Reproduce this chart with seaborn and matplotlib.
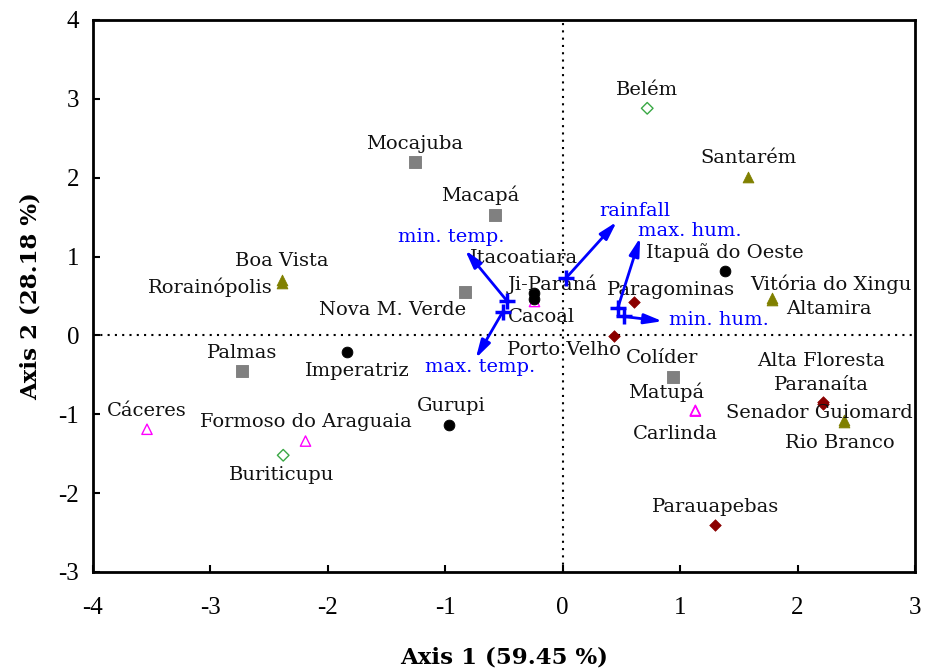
import matplotlib
matplotlib.use("Agg")
import matplotlib.pyplot as plt
import pandas as pd
import seaborn as sns

sns.set_theme(style="white")
plt.rcParams["font.family"] = ["Liberation Serif", "DejaVu Serif"]
plt.rcParams["axes.unicode_minus"] = False

# site scores (axis 1, axis 2) by marker group
sites = [
    "Mocajuba", "Macapá", "Nova M. Verde", "Palmas", "Colíder",
    "Cacoal", "Cáceres", "Formoso do Araguaia", "Matupá", "Carlinda",
    "Itacoatiara", "Ji-Paraná", "Itapuã do Oeste", "Imperatriz", "Gurupi",
    "Paragominas", "Porto Velho", "Alta Floresta", "Paranaíta", "Parauapebas",
    "Santarém", "Boa Vista", "Rorainópolis", "Vitória do Xingu", "Altamira",
    "Senador Guiomard", "Rio Branco",
    "Belém", "Buriticupu",
]
axis1 = [
    -1.26, -0.58, -0.83, -2.73, 0.94,
    -0.24, -3.54, -2.19, 1.13, 1.13,
    -0.24, -0.24, 1.38, -1.84, -0.97,
    0.61, 0.44, 2.22, 2.22, 1.30,
    1.58, -2.39, -2.39, 1.78, 1.78,
    2.40, 2.40,
    0.72, -2.38,
]
axis2 = [
    2.20, 1.53, 0.55, -0.45, -0.53,
    0.43, -1.19, -1.34, -0.95, -0.96,
    0.54, 0.46, 0.82, -0.21, -1.13,
    0.42, -0.01, -0.85, -0.87, -2.40,
    2.01, 0.70, 0.66, 0.48, 0.45,
    -1.07, -1.10,
    2.88, -1.52,
]
group = (["square"] * 5 + ["open triangle"] * 5 + ["circle"] * 5 + ["diamond"] * 5
         + ["triangle"] * 7 + ["open diamond"] * 2)

# environmental vectors: start and tip
variables = ["min. temp.", "max. temp.", "rainfall", "max. hum.", "min. hum."]
var_x0 = [-0.47, -0.51, 0.03, 0.47, 0.52]
var_y0 = [0.43, 0.30, 0.73, 0.35, 0.24]
var_x1 = [-0.83, -0.74, 0.46, 0.66, 0.85]
var_y1 = [1.08, -0.29, 1.44, 1.24, 0.18]

df = pd.DataFrame({"site": sites, "x": axis1, "y": axis2, "group": group})

styles = {
    "square": dict(marker="s", color="#808080", edgecolor="#808080", s=70),
    "open triangle": dict(marker="^", color="none", edgecolor="#ff00ff", s=55, linewidth=1),
    "circle": dict(marker="o", color="black", edgecolor="black", s=60),
    "diamond": dict(marker="D", color="#8b0000", edgecolor="#8b0000", s=35),
    "triangle": dict(marker="^", color="#808000", edgecolor="#808000", s=60),
    "open diamond": dict(marker="D", color="none", edgecolor="#3aa845", s=35, linewidth=1),
}

# label offsets in pixels from the marker (dx, dy, ha)
label_off = {
    "Belém": (0, 18, "center"), "Santarém": (0, 19, "center"),
    "Mocajuba": (0, 18, "center"), "Macapá": (-14, 19, "center"),
    "Boa Vista": (0, 19, "center"), "Rorainópolis": (-9, -4, "right"),
    "Nova M. Verde": (-73, -18, "center"), "Itacoatiara": (-10, 35, "center"),
    "Ji-Paraná": (18, 15, "center"), "Cacoal": (7, -16, "center"),
    "Itapuã do Oeste": (0, 18, "center"), "Paragominas": (37, 12, "center"),
    "Vitória do Xingu": (59, 13, "center"), "Altamira": (57, -9, "center"),
    "Porto Velho": (-50, -14, "center"), "Palmas": (0, 18, "center"),
    "Imperatriz": (11, -19, "center"), "Gurupi": (2, 19, "center"),
    "Cáceres": (0, 18, "center"), "Formoso do Araguaia": (0, 19, "center"),
    "Buriticupu": (-2, -20, "center"), "Colíder": (-11, 19, "center"),
    "Matupá": (-29, 18, "center"), "Carlinda": (-20, -23, "center"),
    "Alta Floresta": (-2, 41, "center"), "Paranaíta": (-2, 19, "center"),
    "Senador Guiomard": (-25, 7, "center"), "Rio Branco": (-5, -21, "center"),
    "Parauapebas": (0, 18, "center"),
}
var_off = {
    "min. temp.": (-14, 13), "max. temp.": (4, -9), "rainfall": (18, 11),
    "max. hum.": (50, 7), "min. hum.": (56, 1),
}

fig = plt.figure(figsize=(9.27, 6.70), dpi=100)
ax = fig.add_axes([0.1003, 0.1463, 0.8867, 0.8239])

ax.axhline(0, color="black", linestyle=(0, (1, 2.5)), linewidth=1.5, zorder=1)
ax.axvline(0, color="black", linestyle=(0, (1, 2.5)), linewidth=1.5, zorder=1)

for g, st in styles.items():
    sub = df[df["group"] == g]
    sns.scatterplot(data=sub, x="x", y="y", ax=ax, legend=False, zorder=3, **st)

label_font = dict(family="DejaVu Serif", fontsize=14)
for name, x, y in zip(sites, axis1, axis2):
    dx, dy, ha = label_off[name]
    ax.annotate(name, (x, y), xytext=(dx, dy), textcoords="offset pixels",
                ha=ha, va="center", color="#111111", zorder=4, **label_font)

blue = "#0000ff"
for name, x0, y0, x1, y1 in zip(variables, var_x0, var_y0, var_x1, var_y1):
    ax.annotate("", xy=(x1, y1), xytext=(x0, y0),
                arrowprops=dict(arrowstyle="-|>,head_length=0.9,head_width=0.25",
                                color=blue, lw=2, shrinkA=0, shrinkB=0), zorder=5)
    dx, dy = var_off[name]
    ax.annotate(name, (x1, y1), xytext=(dx, dy), textcoords="offset pixels",
                ha="center", va="center", color=blue, zorder=5, **label_font)
sns.scatterplot(x=var_x0, y=var_y0, ax=ax, marker="+", s=120, color=blue,
                linewidth=2.5, legend=False, zorder=6)

ax.set_xlim(-4, 3)
ax.set_ylim(-3, 4)
ax.set_xticks(range(-4, 4))
ax.set_yticks(range(-3, 5))
for sp in ax.spines.values():
    sp.set_color("black")
    sp.set_linewidth(2)
ax.tick_params(direction="in", length=5, width=1.5, colors="black",
               labelsize=18, bottom=True, left=True, top=False, right=False)
ax.tick_params(axis="x", pad=18)
ax.tick_params(axis="y", pad=10)

ax.set_xlabel("Axis 1 (59.45 %)", family="DejaVu Serif", fontsize=16.5,
              fontweight="bold", labelpad=20, color="black")
ax.set_ylabel("Axis 2 (28.18 %)", family="DejaVu Serif", fontsize=16.5,
              fontweight="bold", labelpad=12, color="black")

fig.savefig("out.png", dpi=100, facecolor="white")
